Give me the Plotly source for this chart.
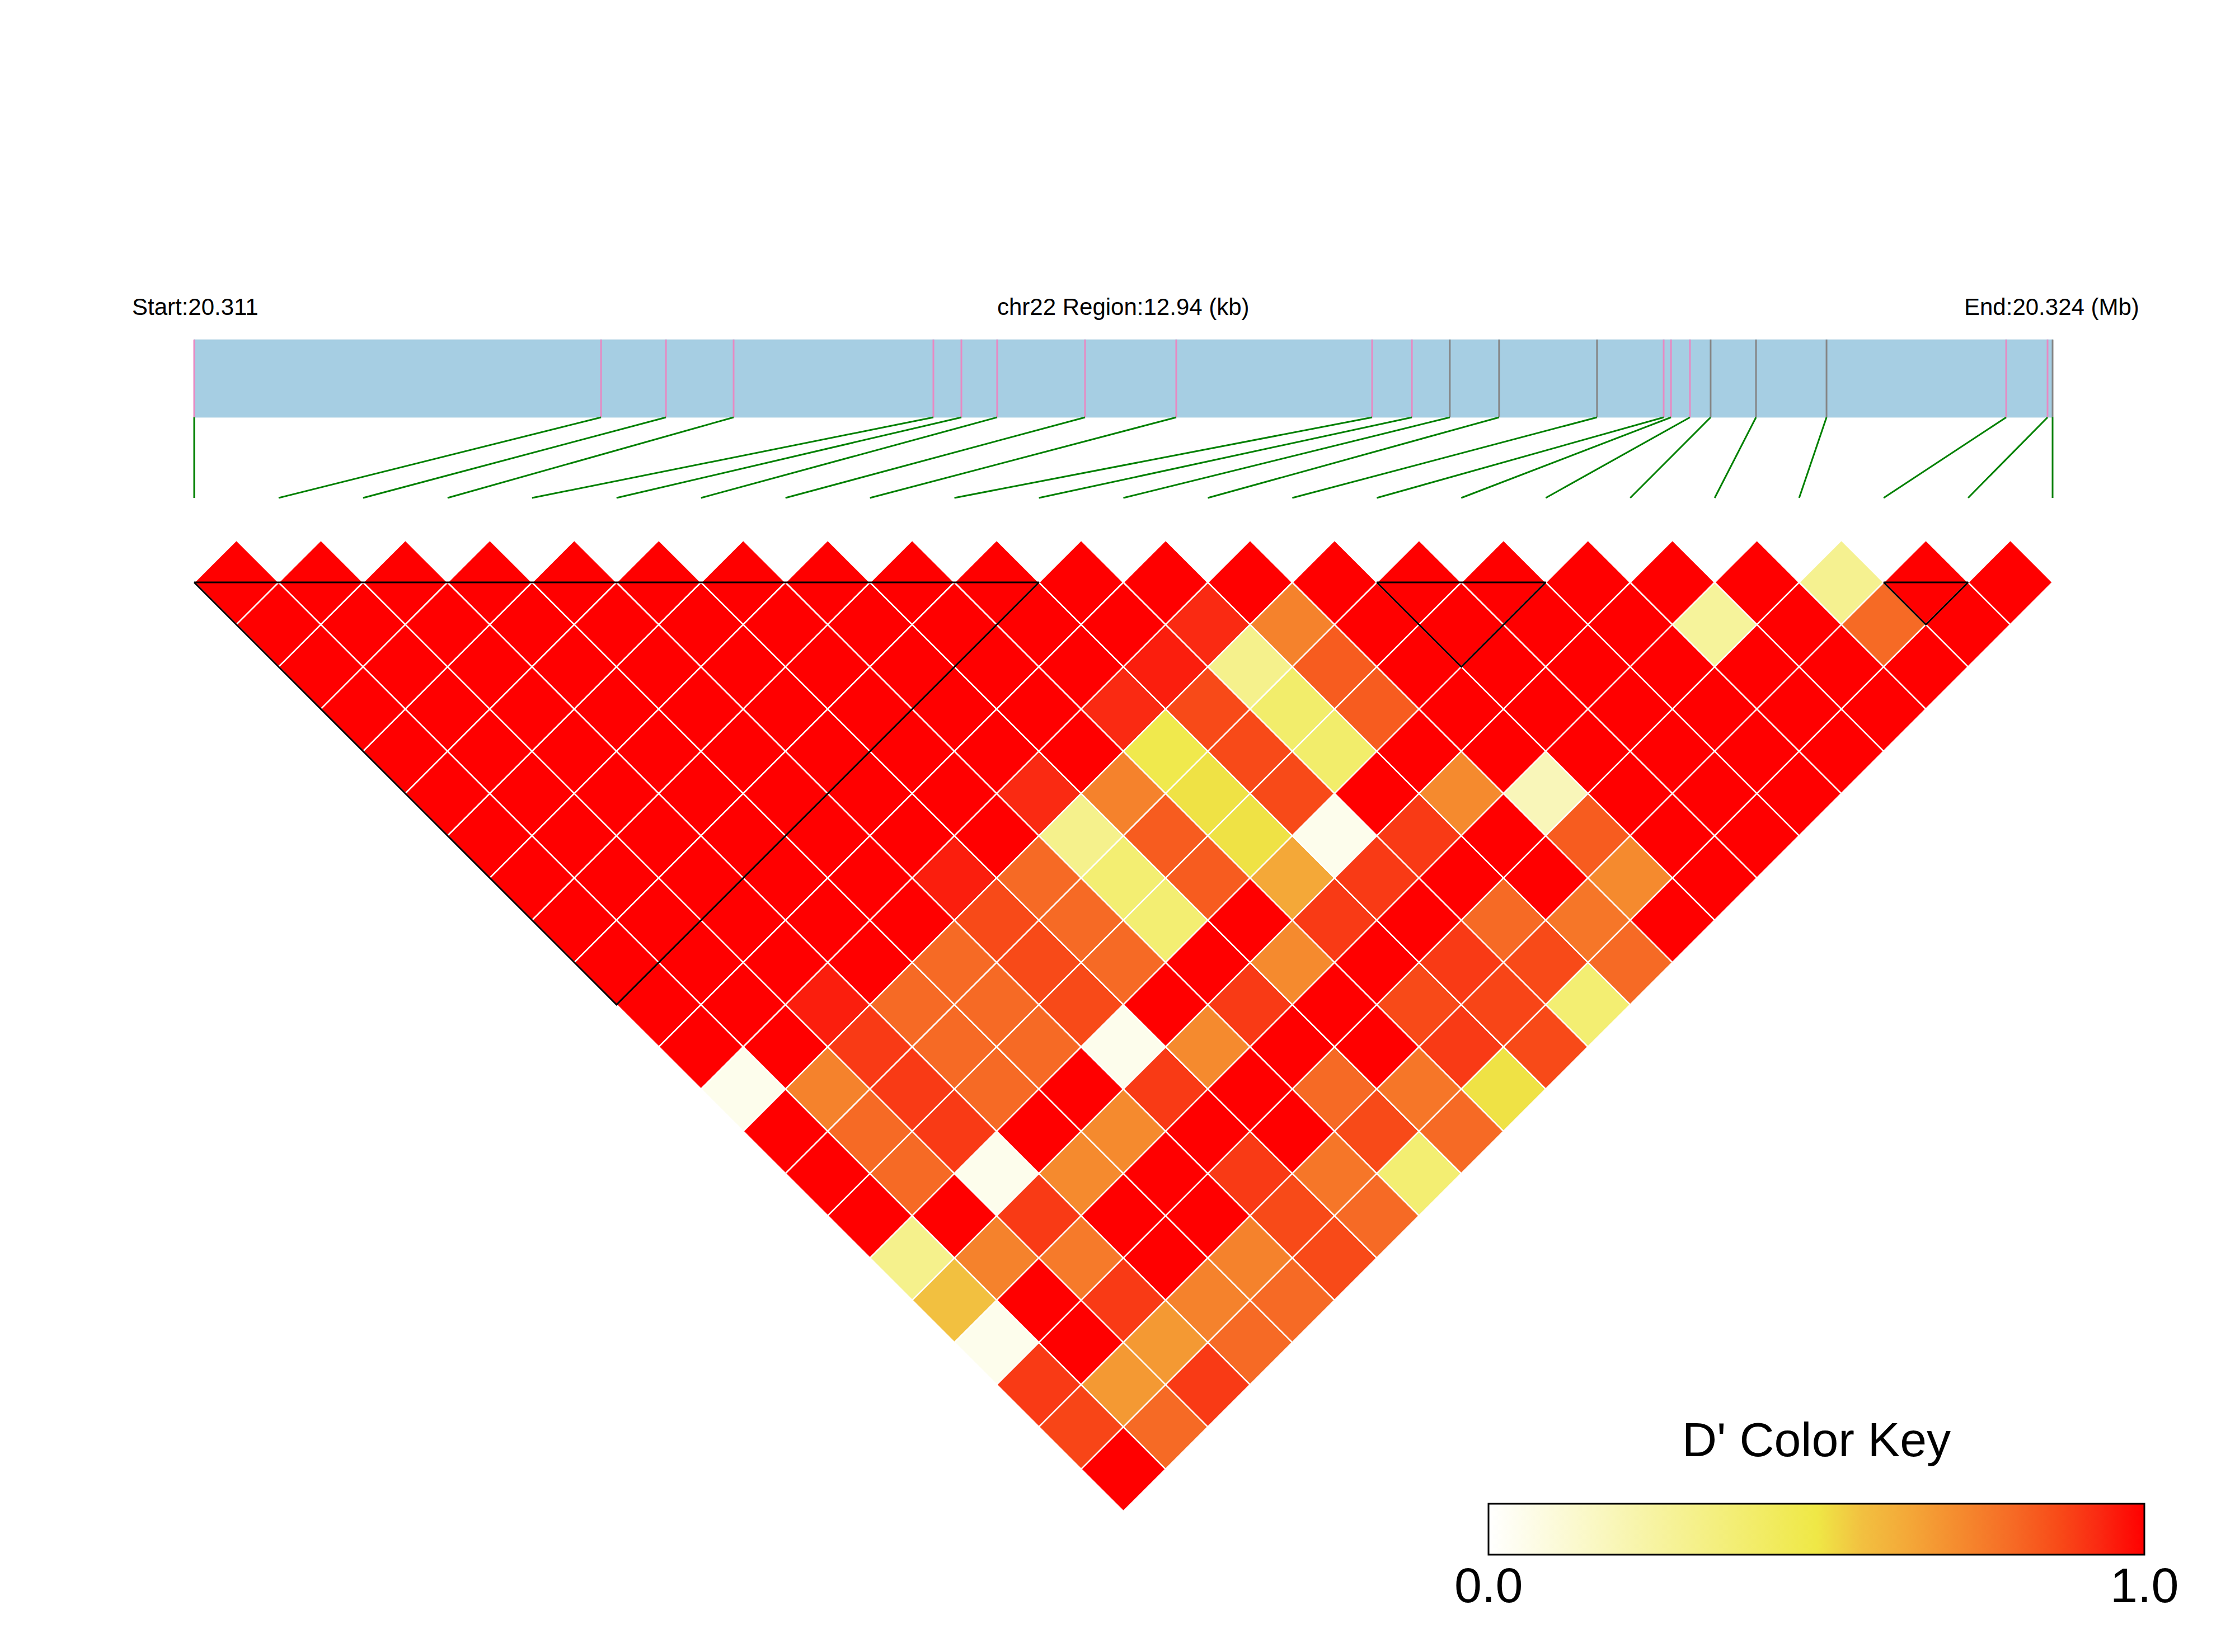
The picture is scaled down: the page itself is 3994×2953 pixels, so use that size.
import plotly.graph_objects as go
from plotly.colors import sample_colorscale

# ---------------- data ----------------
chrom = "chr22"
# SNP positions (bp)
snp_pos = [20311000, 20313833, 20314285, 20314756, 20316147, 20316342, 20316591,
           20317203, 20317838, 20319202, 20319479, 20319743, 20320086, 20320768,
           20321232, 20321283, 20321415, 20321559, 20321875, 20322366, 20323617,
           20323905, 20323940]
# SNP class in the gene track (0 = pink tick, 1 = grey tick)
snp_class = [0, 0, 0, 0, 0, 0, 0, 0, 0, 0, 0, 1, 1, 1, 0, 0, 0, 1, 1, 1, 0, 0, 1]

# pairwise D' : row i holds D'(i, j) for j = i+1 .. n-1
dprime_rows = [
    [1, 1, 1, 1, 1, 1, 1, 1, 1, 1, 1, 1, .05, 1, 1, 1, .31, .57, .05, .90, .88, 1],
    [1, 1, 1, 1, 1, 1, 1, 1, 1, 1, 1, 1, .74, .80, .80, 1, .74, 1, 1, .68, .80],
    [1, 1, 1, 1, 1, 1, 1, 1, 1, 1, .95, .90, .90, .90, .05, .90, .76, .90, .68, .90],
    [1, 1, 1, 1, 1, 1, 1, 1, 1, 1, .80, .80, .80, 1, .72, 1, 1, .74, .80],
    [1, 1, 1, 1, 1, 1, 1, 1, 1, .80, .80, .80, 1, .72, 1, 1, .74, .80],
    [1, 1, 1, 1, 1, 1, 1, .95, .87, .87, .87, .05, .90, 1, .90, .87, .87],
    [1, 1, 1, 1, 1, 1, 1, .80, .80, .80, 1, .72, 1, 1, .77, .80],
    [1, 1, 1, 1, 1, .93, .31, .38, .38, 1, .90, 1, .80, .87, .38],
    [1, 1, 1, 1, 1, .74, .83, .83, 1, .72, 1, 1, .77, .80],
    [1, 1, 1, .93, .48, .51, .51, .64, .90, 1, .87, .90, .51],
    [1, 1, .95, .87, .87, .87, .05, .90, 1, .90, .88, .87],
    [1, .93, .31, .40, .40, 1, .90, 1, .80, .87, .38],
    [1, .74, .83, .83, 1, .72, 1, 1, .77, .80],
    [1, 1, 1, 1, 1, .19, .83, .72, 1],
    [1, 1, 1, 1, 1, 1, 1, 1],
    [1, 1, 1, 1, 1, 1, 1],
    [1, 1, 1, 1, 1, 1],
    [1, .27, 1, 1, 1],
    [1, 1, 1, 1],
    [.30, .80, 1],
    [1, 1],
    [1],
]
# haplotype blocks (first SNP index, last SNP index)
blocks = [(0, 10), (14, 16), (20, 21)]
key_title = "D' Color Key"
key_ticks = [0.0, 1.0]
key_labels = ["0.0", "1.0"]

# ---------------- styling ----------------
PAGE_W, PAGE_H = 3994, 2953
OFF = 8                      # default page body margin
W, H = PAGE_W - 2 * OFF, PAGE_H - 2 * OFF
FONT = "Liberation Sans, Arial, sans-serif"
colorscale = [
    [0.00, "#FFFFFF"],
    [0.50, "#EFE846"],
    [0.57, "#F2C040"],
    [0.64, "#F4A838"],
    [0.72, "#F58A2E"],
    [0.80, "#F66A25"],
    [0.87, "#F84A18"],
    [0.93, "#FA2A12"],
    [1.00, "#FF0000"],
]
tick_colors = {0: "#E78AC3", 1: "#858585"}

n = len(snp_pos)
start, end = snp_pos[0], snp_pos[-1]
span = end - start

# page-pixel geometry -> axis units (1 unit = SNP spacing)
x0_px, x1_px = 347.0, 3668.0
unit = (x1_px - x0_px) / (n - 1)
y0_px = 1041.0
def ux(px):
    return (px - x0_px) / unit
def uy(py):
    return (py - y0_px) / unit
def paper_x(px):
    return (px - OFF) / W
def paper_y(py):
    return 1 - (py - OFF) / H

bar_top, bar_bot = uy(607), uy(746)
link_bot = uy(890)

fig = go.Figure()

# ---- gene / region bar ----
fig.add_trace(go.Scatter(
    x=[0, n - 1, n - 1, 0, 0], y=[bar_top, bar_top, bar_bot, bar_bot, bar_top],
    mode="lines", fill="toself", fillcolor="#A6CEE3",
    line=dict(color="#D3E6F0", width=2), hoverinfo="skip", showlegend=False))

def gx(p):
    return (p - start) / span * (n - 1)

for cls, colr in tick_colors.items():
    xs, ys = [], []
    for p, c in zip(snp_pos, snp_class):
        if c == cls:
            xs += [gx(p), gx(p), None]
            ys += [bar_top, bar_bot, None]
    fig.add_trace(go.Scatter(x=xs, y=ys, mode="lines",
                             line=dict(color=colr, width=3),
                             hoverinfo="skip", showlegend=False))

# ---- connector lines ----
xs, ys = [], []
for i, p in enumerate(snp_pos):
    xs += [gx(p), i, None]
    ys += [bar_bot, link_bot, None]
fig.add_trace(go.Scatter(x=xs, y=ys, mode="lines",
                         line=dict(color="#008000", width=3),
                         hoverinfo="skip", showlegend=False))

# ---- LD diamonds ----
for i, row in enumerate(dprime_rows):
    for k, v in enumerate(row):
        j = i + 1 + k
        cx = (i + j) / 2.0
        cy = (j - i - 1) / 2.0
        col = sample_colorscale(colorscale, [v])[0]
        fig.add_trace(go.Scatter(
            x=[cx - 0.5, cx, cx + 0.5, cx, cx - 0.5],
            y=[cy, cy - 0.5, cy, cy + 0.5, cy],
            mode="lines", fill="toself", fillcolor=col,
            line=dict(color="white", width=2.5),
            hoverinfo="skip", showlegend=False))

# ---- block outlines ----
xs, ys = [], []
for a, b in blocks:
    xs += [a, b, (a + b) / 2.0, a, None]
    ys += [0, 0, (b - a) / 2.0, 0, None]
fig.add_trace(go.Scatter(x=xs, y=ys, mode="lines",
                         line=dict(color="black", width=3),
                         hoverinfo="skip", showlegend=False))

# ---- colour key (native colorbar, labels as annotations) ----
key_l, key_r = 2660, 3832
key_t, key_b = 2688, 2779
fig.add_trace(go.Scatter(
    x=[None], y=[None], mode="markers",
    marker=dict(color=[0, 1], colorscale=colorscale, cmin=0, cmax=1, size=0,
                showscale=True,
                colorbar=dict(
                    orientation="h",
                    x=paper_x((key_l + key_r) / 2), xanchor="center",
                    y=paper_y(key_t), yanchor="top",
                    len=key_r - key_l, lenmode="pixels",
                    thickness=key_b - key_t, thicknessmode="pixels",
                    xpad=0, ypad=0,
                    outlinewidth=3, outlinecolor="black",
                    showticklabels=False, ticks="",
                )),
    hoverinfo="skip", showlegend=False))

# ---- labels ----
ty = uy(548)
annots = [
    dict(x=ux(234), y=ty, text=f"Start:{start / 1e6:.3f}", xanchor="left",
         font=dict(family=FONT, size=42, color="black")),
    dict(x=(n - 1) / 2.0, y=ty, text=f"{chrom} Region:{span / 1000:.2f} (kb)", xanchor="center",
         font=dict(family=FONT, size=42, color="black")),
    dict(x=ux(3508), y=ty, text=f"End:{end / 1e6:.3f} (Mb)", xanchor="left",
         font=dict(family=FONT, size=42, color="black")),
    dict(x=ux((key_l + key_r) / 2), y=uy(2573), text=key_title, xanchor="center",
         font=dict(family=FONT, size=86, color="black")),
]
for t, lab in zip(key_ticks, key_labels):
    annots.append(dict(x=ux(key_l + t * (key_r - key_l)), y=uy(2833), text=lab,
                       xanchor="center", font=dict(family=FONT, size=88, color="black")))
for a in annots:
    a.update(xref="x", yref="y", yanchor="middle", showarrow=False)

fig.update_layout(
    width=W, height=H, autosize=False,
    margin=dict(l=0, r=0, t=0, b=0, pad=0),
    paper_bgcolor="white", plot_bgcolor="white",
    annotations=annots,
    xaxis=dict(range=[ux(OFF), ux(OFF + W)], visible=False, fixedrange=True),
    yaxis=dict(range=[uy(OFF + H), uy(OFF)], visible=False, fixedrange=True),
    showlegend=False,
)

fig.write_html("out.html")
